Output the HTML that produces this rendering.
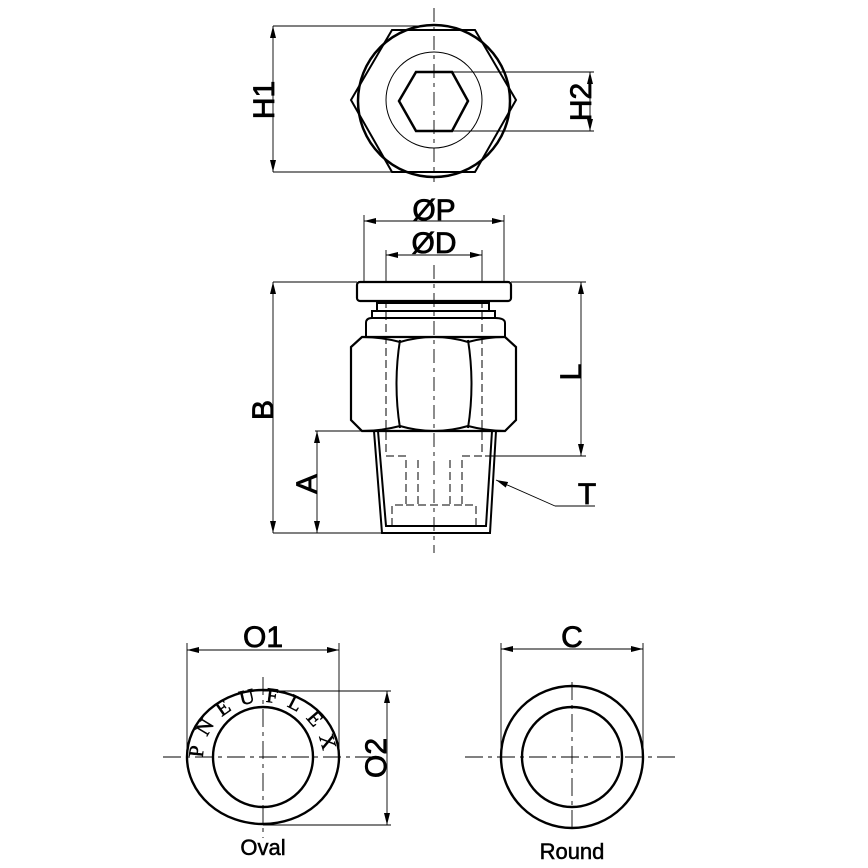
<!DOCTYPE html>
<html><head><style>body{margin:0;background:#fff}svg{display:block}</style></head><body>
<svg width="868" height="868" viewBox="0 0 868 868" xmlns="http://www.w3.org/2000/svg">
<defs>
<marker id="a" viewBox="0 0 12 6" refX="12" refY="3" markerWidth="12" markerHeight="6" orient="auto-start-reverse" markerUnits="userSpaceOnUse"><path d="M0,0 L12,3 L0,6z" fill="#000"/></marker>
<path id="arc" d="M203,758 A60,56 0 0 1 323,758"/>
</defs>
<g fill="none" stroke="#000">
<g stroke-width="0.9" stroke-dasharray="14,5,4,5"><line x1="434" y1="8" x2="434" y2="182"/></g>
<circle cx="434" cy="101" r="76" stroke-width="2.5"/>
<polygon points="392,30 475,30 516,100 475,172 392,172 351,100" stroke-width="2"/>
<circle cx="434" cy="100" r="48" stroke-width="1"/>
<polygon points="416,72 452,72 468,101 452,131 416,131 399,101" stroke-width="2.5"/>
<g stroke-width="0.9">
<line x1="273" y1="26" x2="430" y2="26"/><line x1="273" y1="172" x2="430" y2="172"/>
<line x1="273" y1="26" x2="273" y2="172" marker-start="url(#a)" marker-end="url(#a)"/>
<line x1="452" y1="72" x2="594" y2="72"/><line x1="452" y1="131" x2="594" y2="131"/>
<line x1="590" y1="72" x2="590" y2="131" marker-start="url(#a)" marker-end="url(#a)"/>
<line x1="364" y1="215" x2="364" y2="283"/><line x1="504" y1="215" x2="504" y2="283"/>
<line x1="364" y1="221" x2="504" y2="221" marker-start="url(#a)" marker-end="url(#a)"/>
<line x1="386" y1="250" x2="386" y2="283"/><line x1="482" y1="250" x2="482" y2="283"/>
<line x1="386" y1="255" x2="482" y2="255" marker-start="url(#a)" marker-end="url(#a)"/>
<line x1="273" y1="282" x2="357" y2="282"/><line x1="273" y1="533" x2="382" y2="533"/>
<line x1="273" y1="282" x2="273" y2="533" marker-start="url(#a)" marker-end="url(#a)"/>
<line x1="315" y1="431" x2="372" y2="431"/>
<line x1="317" y1="431" x2="317" y2="533" marker-start="url(#a)" marker-end="url(#a)"/>
<line x1="511" y1="282" x2="586" y2="282"/><line x1="485" y1="456" x2="586" y2="456"/>
<line x1="581" y1="282" x2="581" y2="456" marker-start="url(#a)" marker-end="url(#a)"/>
<polyline points="555,506 595,506"/><line x1="555" y1="506" x2="496" y2="480" marker-end="url(#a)"/>
</g>
<g stroke-width="0.9" stroke-dasharray="14,5,4,5"><line x1="434" y1="265" x2="434" y2="553"/></g>
<rect x="357" y="282" width="154" height="19" rx="3" stroke-width="2.2"/>
<path d="M377,301 V312 M489,301 V312 M377,303 H489" stroke-width="2"/>
<path d="M372,318 V311 H495 V318" stroke-width="2"/>
<path d="M366,337 V323 Q366,318 372,318 H495 Q505,318 505,323 V337" stroke-width="2"/>
<path d="M362,337 H505 L516,347 V420 L505,431 H362 L351,420 V347 Z" stroke-width="2.2"/>
<path d="M400,340 Q393,384 400,428 M468,340 Q475,384 468,428 M362,337 Q381,337 400,342 Q434,332 468,342 Q487,337 505,337 M362,431 Q381,431 400,426 Q434,436 468,426 Q487,431 505,431" stroke-width="2"/>
<path d="M374,431 L382,533 H490 L496,431 M378,431 L386,526 H486 L492,431" stroke-width="2"/>
<g stroke-width="1" stroke-dasharray="8,4">
<line x1="386" y1="300" x2="386" y2="456"/><line x1="482" y1="300" x2="482" y2="456"/>
<path d="M386,456 H406 V505 H392 V527 M482,456 H462 V505 H476 V527 M406,505 H462 M418,460 V505 M450,460 V505"/>
</g>
<g stroke-width="0.9" stroke-dasharray="18,5,4,5"><line x1="163" y1="757" x2="372" y2="757"/><line x1="263" y1="677" x2="263" y2="838"/>
<line x1="465" y1="757" x2="675" y2="757"/><line x1="572" y1="682" x2="572" y2="832"/></g>
<ellipse cx="263" cy="757" rx="76" ry="67" stroke-width="2.4"/>
<circle cx="263" cy="757" r="50" stroke-width="2.4"/>
<circle cx="572" cy="757" r="71" stroke-width="2.4"/>
<circle cx="572" cy="757" r="50" stroke-width="2.4"/>
<g stroke-width="0.9">
<line x1="187" y1="643" x2="187" y2="757"/><line x1="339" y1="643" x2="339" y2="757"/>
<line x1="187" y1="650" x2="339" y2="650" marker-start="url(#a)" marker-end="url(#a)"/>
<line x1="263" y1="691" x2="391" y2="691"/><line x1="263" y1="825" x2="391" y2="825"/>
<line x1="387" y1="691" x2="387" y2="825" marker-start="url(#a)" marker-end="url(#a)"/>
<line x1="501" y1="643" x2="501" y2="757"/><line x1="643" y1="643" x2="643" y2="757"/>
<line x1="501" y1="649" x2="643" y2="649" marker-start="url(#a)" marker-end="url(#a)"/>
</g>
</g>
<g font-family="Liberation Sans, sans-serif" font-size="30" fill="#000" stroke="#000" stroke-width="0.8" text-anchor="middle">
<text x="434" y="220">ØP</text>
<text x="434" y="253">ØD</text>
<text transform="translate(274,100) rotate(-90)">H1</text>
<text transform="translate(591,102) rotate(-90)">H2</text>
<text transform="translate(273,410) rotate(-90)">B</text>
<text transform="translate(317,484) rotate(-90)">A</text>
<text transform="translate(581,372) rotate(-90)">L</text>
<text x="587" y="504">T</text>
<text x="263" y="647">O1</text>
<text x="572" y="647">C</text>
<text transform="translate(386,758) rotate(-90)">O2</text>
<text x="263" y="855" font-size="22" stroke-width="0.5">Oval</text>
<text x="572" y="859" font-size="22" stroke-width="0.5">Round</text>
</g>
<text font-family="Liberation Serif, serif" font-size="21" fill="#000" stroke="#000" stroke-width="0.5"><textPath href="#arc" startOffset="0" textLength="175" lengthAdjust="spacing">PNEUFLEX</textPath></text>
</svg>
</body></html>
